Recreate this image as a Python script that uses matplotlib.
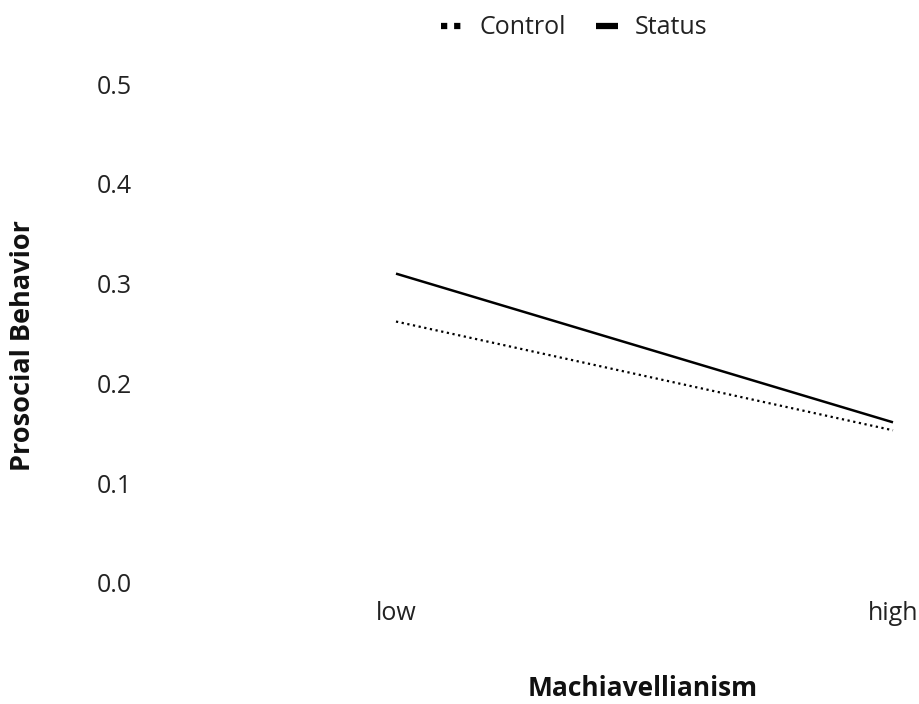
import matplotlib
matplotlib.use("Agg")
import matplotlib.pyplot as plt
from matplotlib.lines import Line2D

plt.rcParams['font.family'] = ['Open Sans', 'DejaVu Sans']

categories = ["low", "high"]
control = [0.262, 0.153]
status = [0.310, 0.161]
yticks = [0.0, 0.1, 0.2, 0.3, 0.4, 0.5]

fig = plt.figure(figsize=(9.2, 7.04), dpi=100)
W, H = 920, 704
left_px, right_px = 140, 893
top_px, bot_px = 84, 583
ax = fig.add_axes([left_px / W, 1 - bot_px / H, (right_px - left_px) / W, (bot_px - top_px) / H])

x = list(range(len(categories)))
ax.plot(x, control, color='black', lw=1.6, linestyle=(0, (1, 1.6)), clip_on=False)
ax.plot(x, status, color='black', lw=1.8, solid_capstyle='butt', clip_on=False)

ax.set_xlim(-(396 - left_px) / (893 - 396), 1.0)
ax.set_ylim(0, 0.5)
ax.set_yticks(yticks)
ax.set_yticklabels([f"{v:.1f}" for v in yticks])
ax.set_xticks(x)
ax.set_xticklabels(categories)
ax.tick_params(axis='both', length=0, labelsize=18, colors='#222222')
ax.tick_params(axis='y', pad=6)
ax.tick_params(axis='x', pad=13)
for s in ax.spines.values():
    s.set_visible(False)

fig.text(23 / W, 1 - 346 / H, "Prosocial Behavior", rotation=90, ha='center', va='center',
         fontsize=19.5, fontweight='bold', color='#111111')
fig.text(643 / W, 1 - 689 / H, "Machiavellianism", ha='center', va='center',
         fontsize=19, fontweight='bold', color='#111111')

handles = [Line2D([], [], color='black', lw=4.5, linestyle=(0, (1, 1.1))),
           Line2D([], [], color='black', lw=4.5, solid_capstyle='butt')]
fig.legend(handles, ["Control", "Status"], loc='center', bbox_to_anchor=(574 / W, 1 - 28 / H),
           ncol=2, frameon=False, fontsize=18, handlelength=0.9, handletextpad=0.65,
           columnspacing=1.2, labelcolor='#222222')

fig.savefig("out.png", dpi=100)
